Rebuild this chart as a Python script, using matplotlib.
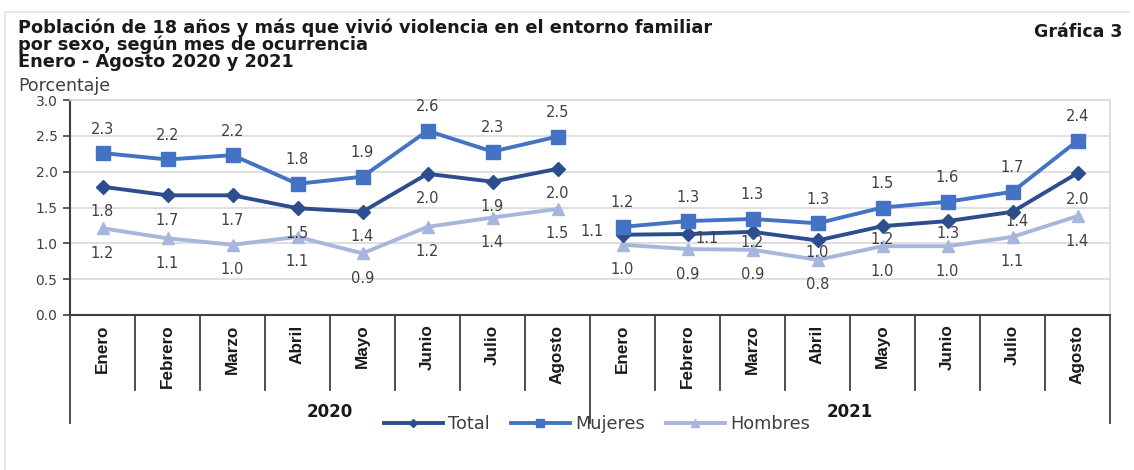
import matplotlib.pyplot as plt
from matplotlib import font_manager
from matplotlib.lines import Line2D

# Datos (porcentaje), enero-agosto 2020 y 2021
years = ["2020", "2021"]
months = ["Enero", "Febrero", "Marzo", "Abril", "Mayo", "Junio", "Julio", "Agosto"]

total = [1.79, 1.67, 1.67, 1.49, 1.44, 1.97, 1.86, 2.04,
         1.12, 1.13, 1.16, 1.04, 1.24, 1.31, 1.44, 1.98]
mujeres = [2.26, 2.17, 2.23, 1.83, 1.93, 2.57, 2.28, 2.49,
           1.23, 1.31, 1.34, 1.28, 1.50, 1.58, 1.72, 2.43]
hombres = [1.21, 1.07, 0.98, 1.09, 0.86, 1.23, 1.36, 1.48,
           0.98, 0.92, 0.91, 0.77, 0.96, 0.96, 1.09, 1.38]

categories = months * len(years)

W, H = 1134, 470
GRAY_TXT = "#404040"
C_TOTAL = "#2C4D8E"
C_MUJ = "#4472C4"
C_HOM = "#A7B6DD"

names = {f.name for f in font_manager.fontManager.ttflist}
if "Liberation Sans Narrow" in names:
    month_font, month_size = "Liberation Sans Narrow", 14.5
else:
    month_font, month_size = "Liberation Sans", 12.3

plt.rcParams["font.family"] = ["DejaVu Sans"]

fig = plt.figure(figsize=(W / 100, H / 100), dpi=100)
ax = fig.add_axes([70 / W, 155 / H, 1040 / W, 215 / H])

xs = [i + 0.5 for i in range(len(categories))]
n = len(months)

# cada año es un tramo aparte (sin unir agosto 2020 con enero 2021)
for j in range(len(years)):
    sl = slice(j * n, (j + 1) * n)
    ax.plot(xs[sl], hombres[sl], color=C_HOM, lw=2.8, marker="^", ms=9, zorder=3)
    ax.plot(xs[sl], total[sl], color=C_TOTAL, lw=2.8, marker="D", ms=7, zorder=4)
    ax.plot(xs[sl], mujeres[sl], color=C_MUJ, lw=2.8, marker="s", ms=9.5, zorder=5)

# etiquetas de datos
lab = dict(ha="center", va="center", fontsize=10.5, color=GRAY_TXT,
           textcoords="offset pixels", zorder=6)
for i, v in enumerate(mujeres):
    ax.annotate(f"{v:.1f}", (xs[i], v), xytext=(0, 24), **lab)
for i, v in enumerate(hombres):
    ax.annotate(f"{v:.1f}", (xs[i], v), xytext=(0, -25), **lab)
total_offsets = [(0, -25)] * 8 + [(-30, 3), (20, -4), (0, -11), (0, -12),
                                  (0, -13), (0, -12), (5, -10), (0, -26)]
for i, v in enumerate(total):
    ax.annotate(f"{v:.1f}", (xs[i], v), xytext=total_offsets[i], **lab)

ax.set_xlim(0, len(categories))
ax.set_ylim(0, 3.0)
ax.set_yticks([0, 0.5, 1.0, 1.5, 2.0, 2.5, 3.0])
ax.set_yticklabels([f"{t:.1f}" for t in ax.get_yticks()])
ax.tick_params(axis="y", length=5, width=1.2, pad=4, labelsize=10,
               labelcolor=GRAY_TXT, color="#404040")
ax.set_xticks([])
ax.grid(axis="y", color="#D9D9D9", lw=1.2)
ax.set_axisbelow(True)
for s in ["top", "right"]:
    ax.spines[s].set_color("#D9D9D9")
    ax.spines[s].set_linewidth(1.2)
for s in ["left", "bottom"]:
    ax.spines[s].set_color("#404040")
    ax.spines[s].set_linewidth(1.5)

# separadores de categorías y etiquetas de meses
tr = ax.get_xaxis_transform()
for k in range(len(categories) + 1):
    bottom = -0.50 if k % n == 0 else -0.35
    ax.plot([k, k], [0, bottom], transform=tr, clip_on=False,
            color="#404040", lw=1.3)
for i, m in enumerate(categories):
    ax.text(xs[i], -0.045, m, transform=tr, rotation=90, ha="center", va="top",
            fontsize=month_size, fontweight="bold", family=month_font,
            color="#1A1A1A")
for j, y in enumerate(years):
    ax.text(n * (j + 0.5), -0.452, y, transform=tr, ha="center",
            va="center", fontsize=12, fontweight="bold", color="#1A1A1A")

# leyenda
handles = [
    Line2D([], [], color=C_TOTAL, lw=2.8, marker="D", ms=4),
    Line2D([], [], color=C_MUJ, lw=2.8, marker="s", ms=6),
    Line2D([], [], color=C_HOM, lw=2.8, marker="^", ms=6),
]
fig.legend(handles, ["Total", "Mujeres", "Hombres"], loc="center",
           bbox_to_anchor=(597 / W, 1 - 424 / H), ncol=3, frameon=False,
           fontsize=12.8, handlelength=3.3, handletextpad=0.3,
           columnspacing=1.2, labelcolor=GRAY_TXT)

# títulos
title_lines = ["Población de 18 años y más que vivió violencia en el entorno familiar",
               "por sexo, según mes de ocurrencia",
               "Enero - Agosto 2020 y 2021"]
for k, t in enumerate(title_lines):
    fig.text(18 / W, 1 - (28 + 17 * k) / H, t, ha="left", va="center",
             fontsize=12.8, fontweight="bold", color="#1A1A1A")
fig.text(18 / W, 1 - 86 / H, "Porcentaje", ha="left", va="center",
         fontsize=12.5, color=GRAY_TXT)
fig.text(1122 / W, 1 - 32 / H, "Gráfica 3", ha="right", va="center",
         fontsize=12.5, fontweight="bold", color="#1A1A1A")

# marco exterior
frame = dict(color="#E3E3E3", lw=1.2, transform=fig.transFigure)
fig.add_artist(Line2D([5 / W, 1129 / W], [1 - 12 / H, 1 - 12 / H], **frame))
fig.add_artist(Line2D([5 / W, 5 / W], [1 - 12 / H, 0], **frame))

fig.savefig("out.png", dpi=100)
